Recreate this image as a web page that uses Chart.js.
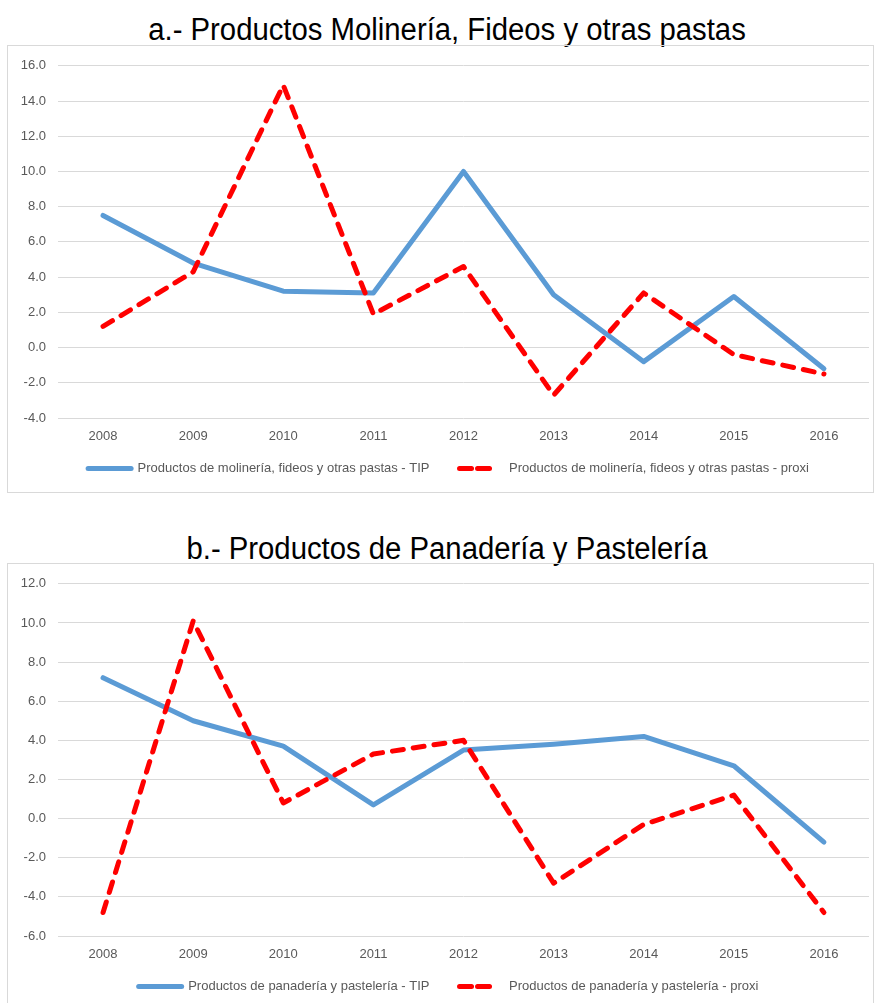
<!DOCTYPE html>
<html>
<head>
<meta charset="utf-8">
<script src="https://cdn.jsdelivr.net/npm/chart.js@4.4.1/dist/chart.umd.min.js"></script>
<style>
  body { margin: 0; background: #fff; width: 874px; height: 1003px; overflow: hidden; position: relative; }
  .title { position: absolute; left: 0; width: 894px; text-align: center; font-family: "Liberation Sans", Arial, sans-serif; font-size: 31px; color: #000; line-height: 36px; transform: scaleX(0.945); transform-origin: 447px 0; white-space: nowrap; }
  .box { position: absolute; left: 7px; width: 865px; height: 446px; border: 1px solid #d9d9d9; }
  .box canvas { display: block; }
</style>
</head>
<body>
<div class="title" style="top:12px">a.- Productos Molinería, Fideos y otras pastas</div>
<div class="box" style="top:45px"><canvas id="chartA" width="865" height="446"></canvas></div>
<div class="title" style="top:531px">b.- Productos de Panadería y Pastelería</div>
<div class="box" style="top:563px"><canvas id="chartB" width="865" height="446"></canvas></div>
<script>
const years = ['2008', '2009', '2010', '2011', '2012', '2013', '2014', '2015', '2016'];

const molineriaTip = [7.5, 4.8, 3.2, 3.1, 10.0, 3.0, -0.8, 2.9, -1.2];
const molineriaProxi = [1.2, 4.3, 14.9, 1.9, 4.6, -2.7, 3.1, -0.4, -1.5];
const panaderiaTip = [7.2, 5.0, 3.7, 0.7, 3.5, 3.8, 4.2, 2.7, -1.2];
const panaderiaProxi = [-4.8, 10.1, 0.8, 3.3, 4.0, -3.3, -0.3, 1.2, -4.8];

const textFont = { family: '"Liberation Sans", Arial, sans-serif', size: 13 };

// nudge the legend up/right a bit so it sits where Excel put it
const legendNudge = {
  id: 'legendNudge',
  afterLayout(chart) {
    const lg = chart.legend;
    lg.top -= 11; lg.bottom -= 11;
    lg.left += 10; lg.right += 10;
  }
};

function makeChart(id, tip, proxi, tipName, proxiName, yMin, yMax) {
  const ctx = document.getElementById(id).getContext('2d');
  return new Chart(ctx, {
    type: 'line',
    data: {
      labels: years,
      datasets: [
        {
          label: tipName,
          data: tip,
          borderColor: '#5B9BD5',
          backgroundColor: '#5B9BD5',
          borderWidth: 5,
          pointRadius: 0,
          tension: 0,
          borderJoinStyle: 'round',
          borderCapStyle: 'round',
          order: 1
        },
        {
          label: proxiName,
          data: proxi,
          borderColor: '#FF0000',
          backgroundColor: '#FF0000',
          borderWidth: 5,
          borderDash: [11, 10],
          borderCapStyle: 'round',
          borderJoinStyle: 'round',
          pointRadius: 0,
          tension: 0,
          order: 0
        }
      ]
    },
    options: {
      responsive: false,
      animation: false,
      layout: { padding: { top: 6, right: 4, left: 0, bottom: 0 } },
      scales: {
        x: {
          offset: true,
          grid: { display: false, drawTicks: false },
          border: { display: false },
          ticks: { color: '#595959', font: textFont, padding: 11, maxRotation: 0 },
          afterFit: (scale) => { scale.height = 25; }
        },
        y: {
          min: yMin,
          max: yMax,
          grid: { color: '#d9d9d9', lineWidth: 1, drawTicks: false },
          border: { display: false },
          ticks: {
            stepSize: 2,
            color: '#595959',
            font: textFont,
            padding: 12,
            callback: (v) => Number(v).toFixed(1)
          },
          afterFit: (scale) => { scale.width = 50; }
        }
      },
      plugins: {
        legend: {
          position: 'bottom',
          maxHeight: 49,
          labels: {
            usePointStyle: true,
            pointStyle: 'line',
            pointStyleWidth: 43,
            padding: 30,
            color: '#595959',
            font: textFont,
            sort: (a, b) => a.datasetIndex - b.datasetIndex,
            generateLabels: (chart) => {
              const items = Chart.defaults.plugins.legend.labels.generateLabels(chart);
              items.forEach((item) => {
                const ds = chart.data.datasets[item.datasetIndex];
                item.lineWidth = 5;
                item.lineCap = 'round';
                item.lineDash = ds.borderDash ? [12, 6, 12, 13] : [];
              });
              return items;
            }
          }
        },
        tooltip: { enabled: false }
      }
    },
    plugins: [legendNudge]
  });
}

makeChart('chartA', molineriaTip, molineriaProxi,
  'Productos de molinería, fideos y otras pastas - TIP',
  'Productos de molinería, fideos y otras pastas - proxi', -4, 16);
makeChart('chartB', panaderiaTip, panaderiaProxi,
  'Productos de panadería y pastelería - TIP',
  'Productos de panadería y pastelería - proxi', -6, 12);
</script>
</body>
</html>
